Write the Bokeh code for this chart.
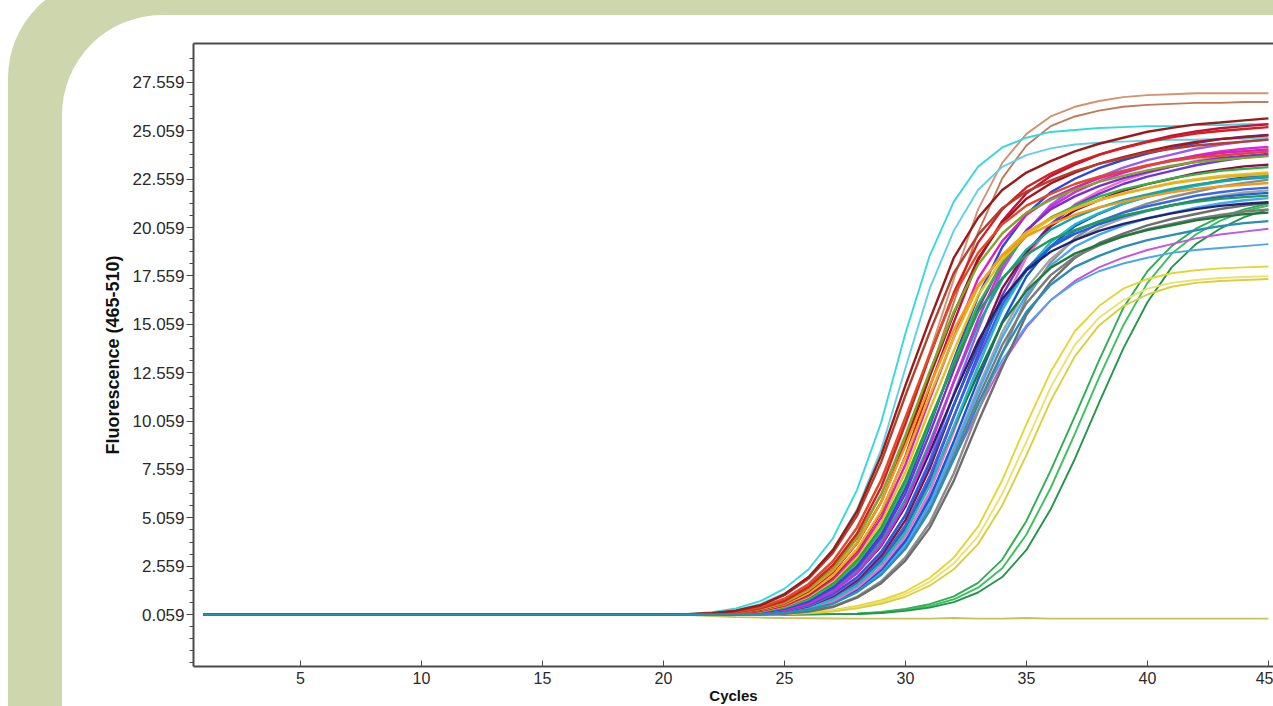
from bokeh.plotting import figure
from bokeh.models import Range1d, FixedTicker, BasicTickFormatter, LinearAxis
from bokeh.embed import file_html
from bokeh.resources import INLINE

# ---------------- data ----------------
CYCLES = list(range(1, 46))
X_TICKS = [5, 10, 15, 20, 25, 30, 35, 40, 45]
Y_TICKS = [0.059, 2.559, 5.059, 7.559, 10.059, 12.559, 15.059, 17.559, 20.059, 22.559, 25.059, 27.559]
X_LABEL = "Cycles"
Y_LABEL = "Fluorescence (465-510)"

# flat baseline shared by every well, cycles 1-20
BASELINE = [0.059, 0.059, 0.059, 0.059, 0.059, 0.059, 0.059, 0.059, 0.059, 0.059,
            0.059, 0.059, 0.059, 0.059, 0.059, 0.059, 0.059, 0.059, 0.059, 0.059]

# values for cycles 21..45
OLIVE_FLAT = [0.03, -0.02, -0.07, -0.10, -0.12, -0.13, -0.14, -0.15, -0.15, -0.15, -0.15, -0.12, -0.15,
              -0.15, -0.12, -0.15, -0.15, -0.15, -0.15, -0.15, -0.15, -0.15, -0.15, -0.15, -0.15]
GREEN_1 = [0.06, 0.06, 0.06, 0.06, 0.06, 0.07, 0.08, 0.10, 0.20, 0.35, 0.60, 1.00, 1.70, 2.90, 4.90,
           7.50, 10.30, 13.20, 15.90, 17.80, 19.10, 20.00, 20.60, 21.00, 21.30]
GREEN_2 = [0.06, 0.06, 0.06, 0.06, 0.06, 0.07, 0.08, 0.10, 0.17, 0.30, 0.50, 0.85, 1.45, 2.45, 4.20,
           6.60, 9.40, 12.30, 15.00, 17.20, 18.70, 19.70, 20.40, 20.90, 21.20]
GREEN_3 = [0.06, 0.06, 0.06, 0.06, 0.06, 0.07, 0.08, 0.09, 0.14, 0.25, 0.42, 0.70, 1.20, 2.00, 3.40,
           5.50, 8.10, 11.00, 13.80, 16.20, 18.00, 19.20, 20.00, 20.60, 21.00]
YELLOW_1 = [0.06, 0.06, 0.06, 0.07, 0.10, 0.18, 0.30, 0.50, 0.80, 1.25, 1.95, 3.00, 4.60, 7.00, 9.90,
            12.60, 14.70, 16.00, 16.90, 17.40, 17.70, 17.85, 17.95, 18.00, 18.05]
YELLOW_2 = [0.06, 0.06, 0.06, 0.06, 0.09, 0.15, 0.26, 0.44, 0.72, 1.12, 1.75, 2.70, 4.10, 6.30, 9.00,
            11.80, 14.00, 15.40, 16.30, 16.90, 17.20, 17.35, 17.45, 17.50, 17.55]
YELLOW_3 = [0.06, 0.06, 0.06, 0.06, 0.08, 0.13, 0.22, 0.38, 0.62, 0.98, 1.55, 2.40, 3.70, 5.70, 8.30,
            11.10, 13.40, 15.00, 16.00, 16.60, 17.00, 17.20, 17.30, 17.35, 17.40]
PURPLE_LOW = [0.06, 0.06, 0.08, 0.12, 0.22, 0.45, 0.85, 1.50, 2.50, 3.90, 5.80, 8.10, 10.60, 13.00, 14.90,
              16.30, 17.30, 18.00, 18.50, 18.90, 19.20, 19.50, 19.70, 19.85, 20.00]
BLUE_LOW = [0.06, 0.06, 0.08, 0.12, 0.23, 0.47, 0.90, 1.60, 2.70, 4.20, 6.20, 8.60, 11.00, 13.20, 15.00,
            16.30, 17.20, 17.80, 18.20, 18.50, 18.75, 18.90, 19.00, 19.10, 19.20]
TAN_1 = [0.07, 0.12, 0.22, 0.42, 0.85, 1.60, 2.80, 4.60, 7.00, 10.00, 13.60, 17.40, 21.00, 23.40, 24.90,
         25.80, 26.30, 26.60, 26.80, 26.90, 26.95, 27.00, 27.00, 27.00, 27.00]
TAN_2 = [0.07, 0.11, 0.20, 0.38, 0.75, 1.40, 2.50, 4.10, 6.30, 9.10, 12.50, 16.20, 19.80, 22.60, 24.30,
         25.30, 25.80, 26.10, 26.30, 26.40, 26.45, 26.50, 26.50, 26.55, 26.55]
CYAN_1 = [0.09, 0.18, 0.38, 0.75, 1.40, 2.40, 4.00, 6.50, 10.00, 14.60, 18.60, 21.40, 23.20, 24.20, 24.70,
          25.00, 25.10, 25.20, 25.25, 25.30, 25.30, 25.35, 25.35, 25.40, 25.40]
CYAN_2 = [0.08, 0.15, 0.30, 0.60, 1.15, 2.00, 3.40, 5.50, 8.60, 12.80, 16.90, 19.90, 22.00, 23.20, 23.80,
          24.15, 24.35, 24.45, 24.50, 24.55, 24.60, 24.60, 24.65, 24.65, 24.70]
GRAY_1 = [0.06, 0.06, 0.06, 0.07, 0.11, 0.23, 0.48, 0.98, 1.78, 3.01, 4.79, 7.36, 10.56, 13.57, 16.42,
          18.24, 19.52, 20.31, 20.84, 21.30, 21.64, 21.91, 22.18, 22.37, 22.53]
GRAY_2 = [0.06, 0.06, 0.06, 0.06, 0.11, 0.22, 0.45, 0.93, 1.68, 2.85, 4.54, 6.98, 10.00, 12.85, 15.55,
          17.28, 18.49, 19.25, 19.74, 20.17, 20.50, 20.76, 21.02, 21.19, 21.34]
GRAY_3 = [0.06, 0.06, 0.06, 0.09, 0.16, 0.33, 0.67, 1.31, 2.29, 3.73, 5.84, 8.70, 11.77, 14.65, 16.92,
          18.43, 19.43, 20.05, 20.54, 20.91, 21.20, 21.47, 21.69, 21.87, 21.98]
GRAY_4 = [0.06, 0.06, 0.06, 0.08, 0.15, 0.32, 0.64, 1.25, 2.18, 3.56, 5.58, 8.31, 11.24, 13.99, 16.15,
          17.60, 18.55, 19.14, 19.61, 19.97, 20.25, 20.50, 20.71, 20.88, 20.99]

MAIN_A = [0.08, 0.13, 0.26, 0.54, 1.11, 2.00, 3.39, 5.40, 8.30, 11.90, 15.29, 18.50, 20.56, 22.00, 22.90,
          23.49, 24.00, 24.39, 24.70, 25.01, 25.21, 25.39, 25.49, 25.60, 25.70]
MAIN_B = [0.07, 0.12, 0.25, 0.52, 1.06, 1.92, 3.25, 5.17, 7.95, 11.39, 14.64, 17.71, 19.68, 21.06, 21.92,
          22.48, 22.98, 23.35, 23.64, 23.94, 24.13, 24.30, 24.40, 24.50, 24.60]
MAIN_C = [0.06, 0.10, 0.18, 0.38, 0.76, 1.49, 2.61, 4.25, 6.65, 9.92, 13.41, 16.70, 19.28, 21.00, 22.14,
          22.85, 23.40, 23.83, 24.16, 24.47, 24.72, 24.92, 25.05, 25.15, 25.25]
MAIN_D = [0.06, 0.10, 0.17, 0.36, 0.71, 1.40, 2.45, 4.00, 6.26, 9.33, 12.61, 15.71, 18.14, 19.75, 20.83,
          21.49, 22.02, 22.42, 22.73, 23.01, 23.25, 23.44, 23.56, 23.66, 23.75]
MAIN_E = [0.06, 0.09, 0.16, 0.34, 0.67, 1.32, 2.31, 3.76, 5.89, 8.78, 11.87, 14.78, 17.07, 18.59, 19.60,
          20.23, 20.72, 21.10, 21.39, 21.66, 21.88, 22.06, 22.18, 22.27, 22.36]
MAIN_F = [0.06, 0.08, 0.13, 0.26, 0.54, 1.10, 1.99, 3.37, 5.36, 8.24, 11.81, 15.17, 18.36, 20.40, 21.83,
          22.72, 23.31, 23.82, 24.20, 24.51, 24.81, 25.02, 25.19, 25.30, 25.40]
MAIN_G = [0.06, 0.07, 0.12, 0.24, 0.51, 1.04, 1.89, 3.19, 5.08, 7.82, 11.20, 14.40, 17.42, 19.36, 20.72,
          21.56, 22.12, 22.60, 22.97, 23.26, 23.55, 23.74, 23.91, 24.01, 24.10]
MAIN_H = [0.06, 0.07, 0.12, 0.23, 0.48, 0.99, 1.79, 3.04, 4.83, 7.43, 10.65, 13.69, 16.56, 18.40, 19.69,
          20.49, 21.02, 21.48, 21.83, 22.10, 22.38, 22.56, 22.72, 22.82, 22.91]
MAIN_I = [0.06, 0.07, 0.11, 0.22, 0.46, 0.94, 1.70, 2.88, 4.58, 7.04, 10.09, 12.97, 15.70, 17.44, 18.66,
          19.42, 19.93, 20.36, 20.69, 20.95, 21.21, 21.39, 21.54, 21.63, 21.71]
MAIN_J = [0.06, 0.06, 0.10, 0.18, 0.38, 0.75, 1.48, 2.58, 4.20, 6.58, 9.80, 13.25, 16.50, 19.05, 20.75,
          21.88, 22.58, 23.13, 23.55, 23.88, 24.18, 24.43, 24.63, 24.75, 24.85]
MAIN_K = [0.06, 0.06, 0.10, 0.17, 0.36, 0.72, 1.42, 2.47, 4.03, 6.31, 9.41, 12.72, 15.84, 18.29, 19.92,
          21.00, 21.67, 22.20, 22.61, 22.92, 23.21, 23.45, 23.64, 23.76, 23.86]
MAIN_L = [0.06, 0.06, 0.09, 0.16, 0.34, 0.68, 1.35, 2.35, 3.83, 6.00, 8.94, 12.08, 15.05, 17.37, 18.92,
          19.95, 20.59, 21.09, 21.48, 21.77, 22.05, 22.28, 22.46, 22.57, 22.66]
MAIN_M = [0.06, 0.06, 0.09, 0.15, 0.32, 0.65, 1.27, 2.21, 3.61, 5.65, 8.43, 11.40, 14.19, 16.38, 17.85,
          18.81, 19.41, 19.89, 20.25, 20.53, 20.79, 21.01, 21.18, 21.29, 21.37]
MAIN_N = [0.06, 0.06, 0.07, 0.12, 0.25, 0.52, 1.07, 1.93, 3.27, 5.21, 8.01, 11.48, 14.76, 17.86, 19.84,
          21.23, 22.10, 22.67, 23.16, 23.54, 23.83, 24.13, 24.33, 24.50, 24.60]
MAIN_O = [0.06, 0.06, 0.07, 0.12, 0.24, 0.49, 1.01, 1.83, 3.10, 4.94, 7.59, 10.88, 13.98, 16.92, 18.80,
          20.12, 20.94, 21.48, 21.95, 22.30, 22.58, 22.87, 23.05, 23.22, 23.31]
MAIN_P = [0.06, 0.06, 0.07, 0.11, 0.22, 0.47, 0.96, 1.74, 2.94, 4.68, 7.20, 10.32, 13.27, 16.06, 17.84,
          19.09, 19.87, 20.38, 20.83, 21.16, 21.43, 21.70, 21.88, 22.03, 22.12]
MAIN_Q = [0.06, 0.06, 0.06, 0.11, 0.21, 0.44, 0.90, 1.64, 2.77, 4.41, 6.78, 9.72, 12.50, 15.12, 16.80,
          17.98, 18.71, 19.19, 19.61, 19.93, 20.18, 20.43, 20.60, 20.75, 20.83]
MAIN_R = [0.06, 0.06, 0.06, 0.10, 0.17, 0.36, 0.73, 1.43, 2.50, 4.08, 6.39, 9.53, 12.88, 16.04, 18.52,
          20.17, 21.26, 21.94, 22.48, 22.89, 23.21, 23.50, 23.74, 23.94, 24.06]
MAIN_S = [0.06, 0.06, 0.06, 0.09, 0.16, 0.35, 0.69, 1.36, 2.37, 3.86, 6.05, 9.02, 12.19, 15.18, 17.53,
          19.09, 20.13, 20.77, 21.28, 21.67, 21.97, 22.24, 22.47, 22.66, 22.77]
MAIN_T = [0.06, 0.06, 0.06, 0.09, 0.15, 0.33, 0.65, 1.29, 2.25, 3.66, 5.73, 8.55, 11.55, 14.39, 16.61,
          18.09, 19.08, 19.69, 20.17, 20.54, 20.82, 21.08, 21.30, 21.47, 21.58]
MAIN_U = [0.06, 0.06, 0.06, 0.08, 0.14, 0.31, 0.62, 1.22, 2.12, 3.46, 5.42, 8.08, 10.92, 13.60, 15.70,
          17.10, 18.03, 18.60, 19.06, 19.41, 19.67, 19.92, 20.13, 20.29, 20.39]
MAIN_V = [0.07, 0.11, 0.20, 0.43, 0.88, 1.64, 2.82, 4.54, 7.03, 10.26, 13.50, 16.56, 18.74, 20.23, 21.19,
          21.80, 22.31, 22.69, 22.99, 23.28, 23.50, 23.68, 23.78, 23.88, 23.98]
MAIN_W = [0.06, 0.09, 0.15, 0.31, 0.63, 1.27, 2.25, 3.74, 5.89, 8.90, 12.36, 15.62, 18.45, 20.29, 21.55,
          22.34, 22.90, 23.36, 23.70, 24.00, 24.28, 24.48, 24.63, 24.73, 24.83]
MAIN_X = [0.06, 0.08, 0.14, 0.29, 0.58, 1.17, 2.07, 3.44, 5.42, 8.19, 11.37, 14.37, 16.97, 18.66, 19.82,
          20.54, 21.06, 21.48, 21.80, 22.08, 22.33, 22.51, 22.65, 22.74, 22.83]
MAIN_Y = [0.06, 0.07, 0.10, 0.20, 0.42, 0.85, 1.60, 2.74, 4.40, 6.83, 9.96, 13.11, 16.08, 18.20, 19.64,
          20.57, 21.17, 21.66, 22.03, 22.32, 22.60, 22.81, 22.99, 23.09, 23.18]
MAIN_Z = [0.06, 0.06, 0.09, 0.15, 0.31, 0.62, 1.24, 2.21, 3.66, 5.77, 8.72, 12.11, 15.31, 18.08, 19.89,
          21.12, 21.89, 22.44, 22.89, 23.23, 23.52, 23.79, 23.99, 24.13, 24.23]
MAIN_AA = [0.06, 0.06, 0.08, 0.13, 0.28, 0.56, 1.12, 1.99, 3.30, 5.20, 7.87, 10.92, 13.81, 16.30, 17.93,
           19.04, 19.73, 20.23, 20.64, 20.94, 21.21, 21.45, 21.63, 21.76, 21.85]
MAIN_AB = [0.06, 0.06, 0.06, 0.10, 0.19, 0.41, 0.84, 1.57, 2.69, 4.33, 6.71, 9.79, 12.88, 15.80, 17.88,
           19.30, 20.22, 20.80, 21.29, 21.65, 21.94, 22.21, 22.42, 22.59, 22.69]
MAIN_AC = [0.06, 0.06, 0.07, 0.11, 0.20, 0.43, 0.88, 1.64, 2.82, 4.54, 7.03, 10.26, 13.50, 16.56, 18.74,
           20.23, 21.19, 21.80, 22.31, 22.69, 22.99, 23.28, 23.50, 23.68, 23.78]

OUTLIERS = [
    (OLIVE_FLAT, "#c9c25a"),
    (GREEN_1, "#2fae52"), (GREEN_2, "#3cc05e"), (GREEN_3, "#23964a"),
    (YELLOW_1, "#e3d733"), (YELLOW_2, "#ece070"), (YELLOW_3, "#d8d040"),
    (PURPLE_LOW, "#c455e0"), (BLUE_LOW, "#4aa8e8"),
    (TAN_1, "#d39272"), (TAN_2, "#c07a5c"),
    (CYAN_1, "#35d8dc"), (CYAN_2, "#5fd0e6"),
]
BAND = [
    (GRAY_1, "#8c8c8c"), (GRAY_2, "#6e6e6e"), (GRAY_3, "#a3a3a3"), (GRAY_4, "#7b7b7b"),
    (MAIN_T, "#46a8f2"), (MAIN_S, "#1356d6"), (MAIN_R, "#f06ec8"), (MAIN_AC, "#6a3ad8"),
    (MAIN_Q, "#1d7a3c"), (MAIN_P, "#3568e8"), (MAIN_AB, "#22b8c8"), (MAIN_O, "#8a1040"),
    (MAIN_N, "#9a5cf0"), (MAIN_AA, "#2060d8"), (MAIN_M, "#23246e"), (MAIN_L, "#1aa3a3"),
    (MAIN_Z, "#d62ad6"), (MAIN_K, "#7b2fd1"), (MAIN_J, "#2b45e6"), (MAIN_Y, "#38b04a"),
    (MAIN_I, "#1f9e55"), (MAIN_H, "#e6c21a"), (MAIN_G, "#e01fb8"), (MAIN_F, "#c0143c"),
    (MAIN_X, "#e8b020"), (MAIN_W, "#a8141e"), (MAIN_E, "#f29a1c"), (MAIN_D, "#7fa82a"),
    (MAIN_C, "#d42020"), (MAIN_V, "#e04a2a"), (MAIN_B, "#b3402a"), (MAIN_A, "#9b1b1b"),
    (MAIN_U, "#2a8fb5"),
]

# ---------------- figure ----------------
FONT = "Liberation Sans"
AXIS_COLOR = "#4a4a4a"

PAGE_CSS = """
:host { position: relative; isolation: isolate; }
:host::before { content: ''; position: absolute; left: 8px; top: -22px; right: 0; bottom: 0;
                background: #ced6ae; border-top-left-radius: 100px; z-index: -1; }
:host::after { content: ''; position: absolute; left: 62px; top: 15px; right: 0; bottom: 0;
               background: #ffffff; border-top-left-radius: 100px; z-index: -1; }
"""

p = figure(width=1273, height=706, output_backend="svg", toolbar_location=None,
           x_range=Range1d(0.578, 45.21), y_range=Range1d(-2.624, 29.57),
           min_border_left=193, min_border_right=0, min_border_top=43, min_border_bottom=39,
           border_fill_color=None, background_fill_color=None, outline_line_color=None,
           stylesheets=[PAGE_CSS])

for vals, color in OUTLIERS:
    p.line(CYCLES, BASELINE + vals, line_color=color, line_width=1.9)
for vals, color in BAND:
    p.line(CYCLES, BASELINE + vals, line_color=color, line_width=2.4)

p.xgrid.visible = False
p.ygrid.visible = False

xa = p.xaxis[0]
xa.ticker = FixedTicker(ticks=X_TICKS, minor_ticks=[])
xa.axis_label = X_LABEL
xa.axis_line_width = 2
xa.axis_line_color = AXIS_COLOR
xa.major_tick_line_color = AXIS_COLOR
xa.major_tick_in = 6
xa.major_tick_out = 0
xa.minor_tick_in = 0
xa.minor_tick_out = 0
xa.major_label_text_font = FONT
xa.major_label_text_font_size = "16px"
xa.major_label_text_color = "#2a2a2a"
xa.major_label_standoff = 5
xa.axis_label_text_font = FONT
xa.axis_label_text_font_style = "bold"
xa.axis_label_text_font_size = "15px"
xa.axis_label_text_color = "#111111"
xa.axis_label_standoff = 0

Y_MINOR = [round(0.059 + 0.625 * i, 4) for i in range(-4, 47)]
ya = p.yaxis[0]
ya.ticker = FixedTicker(ticks=Y_TICKS, minor_ticks=Y_MINOR)
ya.formatter = BasicTickFormatter(precision=3, use_scientific=False)
ya.axis_label = Y_LABEL
ya.axis_line_width = 2
ya.axis_line_color = AXIS_COLOR
ya.major_tick_line_color = AXIS_COLOR
ya.minor_tick_line_color = AXIS_COLOR
ya.major_tick_in = 0
ya.major_tick_out = 7
ya.minor_tick_in = 0
ya.minor_tick_out = 4
ya.major_label_text_font = FONT
ya.major_label_text_font_size = "17px"
ya.major_label_text_color = "#2a2a2a"
ya.major_label_standoff = 2
ya.axis_label_text_font = FONT
ya.axis_label_text_font_style = "bold"
ya.axis_label_text_font_size = "18px"
ya.axis_label_text_color = "#111111"
ya.axis_label_standoff = 7

top = LinearAxis(ticker=FixedTicker(ticks=[]), axis_line_width=2, axis_line_color=AXIS_COLOR,
                 major_label_text_font_size="0px", major_tick_in=0, major_tick_out=0,
                 minor_tick_in=0, minor_tick_out=0)
p.add_layout(top, "above")

open("out.html", "w").write(file_html(p, INLINE))
